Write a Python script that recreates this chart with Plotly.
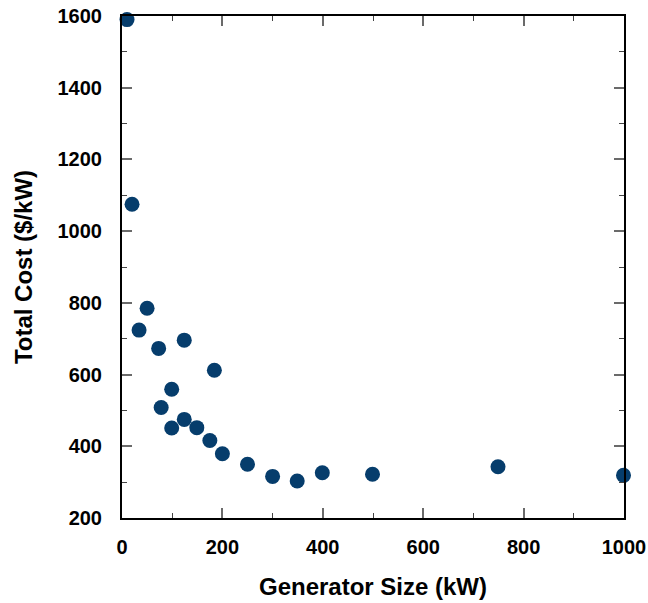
import plotly.graph_objects as go

generator_size_kw = [10, 20, 34, 50, 73, 78, 99, 99, 124, 124, 149, 175, 184, 200, 250, 300, 349, 399, 499, 749, 999]
total_cost_per_kw = [1590, 1075, 724, 785, 673, 508, 559, 451, 696, 475, 452, 416, 612, 379, 350, 316, 303, 326, 322, 343, 319]

FONT = "Liberation Sans, Arial, Helvetica, sans-serif"

fig = go.Figure()
fig.add_trace(go.Scatter(
    x=generator_size_kw, y=total_cost_per_kw, mode="markers",
    marker=dict(size=15, color="#063d6c"),
    cliponaxis=False, showlegend=False,
))

axis_common = dict(
    showgrid=False, zeroline=False, automargin=False,
    showline=True, linecolor="black", linewidth=2, mirror="ticks",
    ticks="inside", ticklen=10, tickwidth=1.5, tickcolor="#6a6a6a",
    tickfont=dict(family=FONT, size=20, color="black", weight="bold"),
)

fig.update_xaxes(
    range=[0, 1000], tick0=0, dtick=200, ticklabelstandoff=10,
    minor=dict(ticks="inside", ticklen=5, dtick=100, tickcolor="#444444", tickwidth=1),
    title=dict(text="Generator Size (kW)", font=dict(family=FONT, size=24, color="black", weight="bold"), standoff=21),
    **axis_common,
)
fig.update_yaxes(
    range=[200, 1600], tick0=200, dtick=200, ticklabelstandoff=14,
    minor=dict(ticks="inside", ticklen=5, dtick=100, tickcolor="#444444", tickwidth=1),
    title=dict(text="Total Cost ($/kW)", font=dict(family=FONT, size=24, color="black", weight="bold"), standoff=18),
    **axis_common,
)

fig.update_layout(
    width=648, height=603,
    margin=dict(l=122, r=24, t=16, b=85),
    plot_bgcolor="white", paper_bgcolor="white",
)

fig.write_html("out.html", config={"displayModeBar": False},
               post_script="document.body.style.margin='0px';")
